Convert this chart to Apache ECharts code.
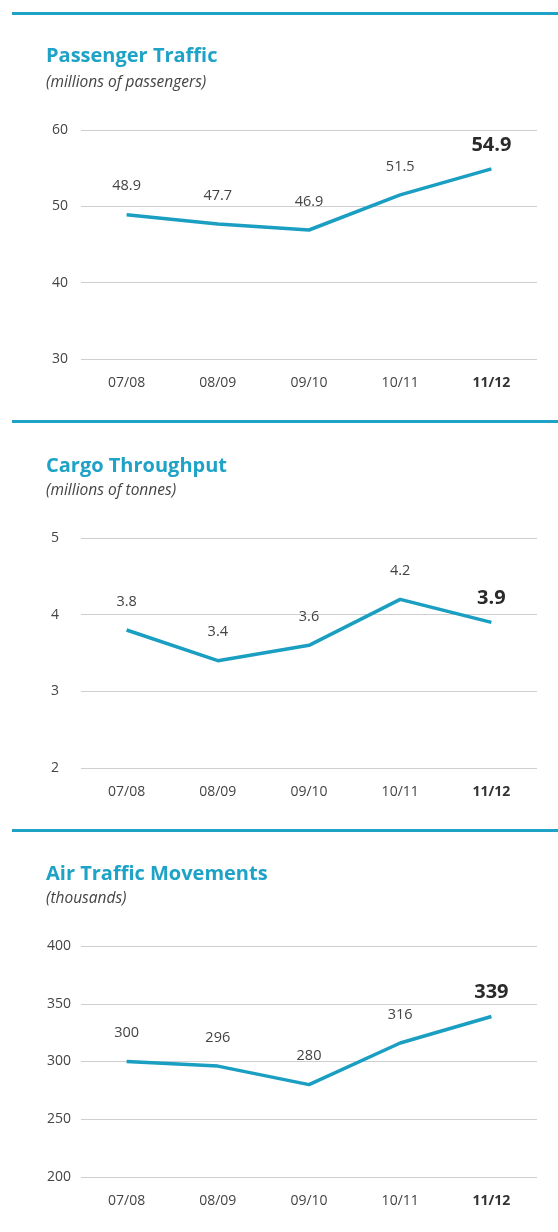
<!DOCTYPE html>
<html>
<head>
<meta charset="utf-8">
<script src="https://cdn.jsdelivr.net/npm/echarts@6/dist/echarts.min.js"></script>
<style>
html,body{margin:0;padding:0;background:#fff;}
#c{width:558px;height:1232px;}
</style>
</head>
<body>
<div id="c"></div>
<script>
const categories = ['07/08', '08/09', '09/10', '10/11', '11/12'];

const passengerValues = [48.9, 47.7, 46.9, 51.5, 54.9];
const passengerTicks = [30, 40, 50, 60];

const cargoValues = [3.8, 3.4, 3.6, 4.2, 3.9];
const cargoTicks = [2, 3, 4, 5];

const atmValues = [300, 296, 280, 316, 339];
const atmTicks = [200, 250, 300, 350, 400];

const titles = ['Passenger Traffic', 'Cargo Throughput', 'Air Traffic Movements'];
const subtitles = ['(millions of passengers)', '(millions of tonnes)', '(thousands)'];

const FONT = '"Open Sans", "Noto Sans", sans-serif';
const CYAN = '#1ea2c6';
const LINE = '#1a9ec2';
const TEXT = '#444';

const panels = [
  {vals: passengerValues, ticks: passengerTicks, top: 130, bottom: 1232 - 359, ruleY: 12, titleY: 46, subY: 75, labelMargin: 13},
  {vals: cargoValues, ticks: cargoTicks, top: 538, bottom: 1232 - 768, ruleY: 420, titleY: 456, subY: 483, labelMargin: 22},
  {vals: atmValues, ticks: atmTicks, top: 946, bottom: 1232 - 1177, ruleY: 829, titleY: 864, subY: 891, labelMargin: 10}
];

const grid = [], xAxis = [], yAxis = [], series = [], title = [], graphic = [];

panels.forEach((p, i) => {
  const mn = p.ticks[0], mx = p.ticks[p.ticks.length - 1];
  const step = p.ticks[1] - p.ticks[0];
  grid.push({left: 81, right: 21, top: p.top, bottom: p.bottom, containLabel: false});
  xAxis.push({
    type: 'category', gridIndex: i, data: categories, boundaryGap: true,
    axisLine: {show: false}, axisTick: {show: false},
    axisLabel: {
      margin: 17, fontFamily: FONT, fontSize: 14, color: TEXT,
      formatter: (v, idx) => idx === categories.length - 1 ? '{b|' + v + '}' : v,
      rich: {b: {fontWeight: 'bold', fontFamily: FONT, fontSize: 14, color: '#333'}}
    }
  });
  yAxis.push({
    type: 'value', gridIndex: i, min: mn, max: mx, interval: step,
    axisLine: {show: false}, axisTick: {show: false},
    axisLabel: {margin: p.labelMargin, fontFamily: FONT, fontSize: 14, color: TEXT},
    splitLine: {lineStyle: {color: '#cfcfcf', width: 1.2}}
  });
  series.push({
    type: 'line', xAxisIndex: i, yAxisIndex: i,
    data: p.vals.map((v, k) => k === p.vals.length - 1 ? {
      value: v,
      label: {fontSize: 20, fontWeight: 'bold', color: '#2a2a2a', distance: 13}
    } : v),
    symbol: 'circle', symbolSize: 2, showSymbol: true,
    itemStyle: {color: 'rgba(0,0,0,0)', borderWidth: 0},
    lineStyle: {color: LINE, width: 3.5},
    label: {show: true, position: 'top', distance: 20, fontFamily: FONT, fontSize: 14.5, color: TEXT},
    labelLayout: {hideOverlap: false},
    silent: true, animation: false
  });
  title.push({
    text: titles[i], left: 46, top: p.titleY, padding: 0,
    textStyle: {fontFamily: FONT, fontSize: 20, fontWeight: 'bold', color: CYAN}
  });
  title.push({
    text: subtitles[i], left: 46, top: p.subY, padding: 0,
    textStyle: {fontFamily: FONT, fontSize: 15.5, fontStyle: 'italic', fontWeight: 'normal', color: '#444'}
  });
  graphic.push({
    type: 'rect', shape: {x: 12, y: p.ruleY, width: 546, height: 3},
    style: {fill: CYAN}
  });
});

const chart = echarts.init(document.getElementById('c'), null, {renderer: 'canvas'});
chart.setOption({
  animation: false,
  backgroundColor: '#fff',
  title, grid, xAxis, yAxis, series, graphic
});
</script>
</body>
</html>
